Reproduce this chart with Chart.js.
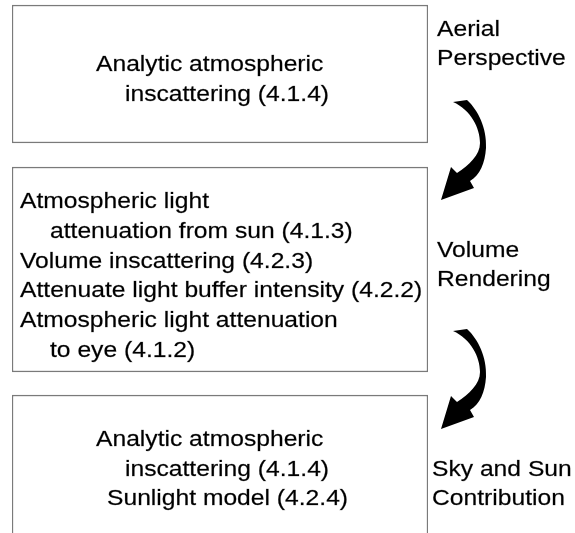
<!DOCTYPE html>
<html>
<head>
<meta charset="utf-8">
<script src="https://cdn.jsdelivr.net/npm/chart.js@4"></script>
<style>
  html, body { margin: 0; padding: 0; background: #fff; }
  #wrap { width: 575px; height: 533px; position: relative; }
</style>
</head>
<body>
<div id="wrap"><canvas id="flow"></canvas></div>
<script>
(function(){
	// pipeline stages (vertical extent of each box, in chart units)
	const stages = ['Aerial Perspective', 'Volume Rendering', 'Sky and Sun Contribution'];
	const stageTop = [5, 167, 395];
	const stageBottom = [143, 372, 560];
	const sideLabels = [['Aerial', 'Perspective'], ['Volume', 'Rendering'], ['Sky and Sun', 'Contribution']];
	const boxLines = [
		['Analytic atmospheric', 'inscattering (4.1.4)'],
		['Atmospheric light', 'attenuation from sun (4.1.3)', 'Volume inscattering (4.2.3)',
		 'Attenuate light buffer intensity (4.2.2)', 'Atmospheric light attenuation', 'to eye (4.1.2)'],
		['Analytic atmospheric', 'inscattering (4.1.4)', 'Sunlight model (4.2.4)']
	];

	const FONT = '22px "Liberation Sans", Arial, sans-serif';
	const STRETCH = 1.12;

	// per-box text layout: x of each line, first baseline offset from box top, line step
	const lineX = [[96, 125], [20, 50, 20, 20, 20, 50], [96, 125, 107]];
	const firstBase = [66, 41, 51];
	const lineStep = [30, 29.8, 29.5];
	const sideX = [437, 437, 432];
	const sideBase = [36, 257, 476];

	function text(ctx, s, x, y){
		ctx.save();
		ctx.translate(x, y);
		ctx.scale(STRETCH, 1);
		ctx.fillText(s, 0, 0);
		ctx.strokeText(s, 0, 0);
		ctx.restore();
	}

	// curved arrow, anchored at right edge / bottom edge of the upper box
	function arrow(ctx, ax, ay){
		const p = (dx, dy) => [ax + dx, ay + dy];
		ctx.beginPath();
		ctx.moveTo(...p(25, -41));
		ctx.lineTo(...p(39, -43));
		ctx.bezierCurveTo(...p(50, -33), ...p(59, -15), ...p(58, 5));
		ctx.bezierCurveTo(...p(57, 20), ...p(52, 32), ...p(42, 38));
		ctx.lineTo(...p(46, 45));
		ctx.lineTo(...p(13, 57));
		ctx.lineTo(...p(23, 24));
		ctx.lineTo(...p(29, 30));
		ctx.bezierCurveTo(...p(41, 22), ...p(52, 12), ...p(52, 0));
		ctx.bezierCurveTo(...p(52, -15), ...p(43, -33), ...p(25, -41));
		ctx.closePath();
		ctx.fillStyle = '#000';
		ctx.fill();
	}

	const flowText = {
		id: 'flowText',
		afterDatasetsDraw(chart){
			const ctx = chart.ctx;
			const y = chart.scales.y;
			const right = chart.chartArea.right;
			ctx.save();
			ctx.font = FONT;
			ctx.fillStyle = '#000';
			ctx.strokeStyle = 'rgba(0,0,0,0.5)';
			ctx.lineWidth = 0.4;
			ctx.textBaseline = 'alphabetic';
			boxLines.forEach((lines, i) => {
				const top = y.getPixelForValue(stageTop[i]);
				lines.forEach((s, j) => {
					text(ctx, s, lineX[i][j], top + firstBase[i] + j * lineStep[i]);
				});
			});
			sideLabels.forEach((lines, i) => {
				lines.forEach((s, j) => text(ctx, s, sideX[i], sideBase[i] + j * 29));
			});
			for(let i = 0; i < stages.length - 1; i++){
				arrow(ctx, right, y.getPixelForValue(stageBottom[i]));
			}
			ctx.restore();
		}
	};

	new Chart(document.getElementById('flow'), {
		type: 'bar',
		data: {
			labels: ['pipeline'],
			datasets: stages.map((name, i) => ({
				label: name,
				data: [[stageTop[i], stageBottom[i]]],
				backgroundColor: '#fff',
				borderColor: '#7a7a7a',
				borderWidth: 1.5,
				borderSkipped: false,
				grouped: false,
				barPercentage: 1,
				categoryPercentage: 1
			}))
		},
		options: {
			responsive: true,
			maintainAspectRatio: false,
			animation: false,
			layout: { padding: { left: 12, right: 147, top: 0, bottom: 0 } },
			plugins: { legend: { display: false }, tooltip: { enabled: false } },
			scales: {
				x: { display: false },
				y: { display: false, min: 0, max: 533, reverse: true }
			}
		},
		plugins: [flowText]
	});
})();
</script>
</body>
</html>
